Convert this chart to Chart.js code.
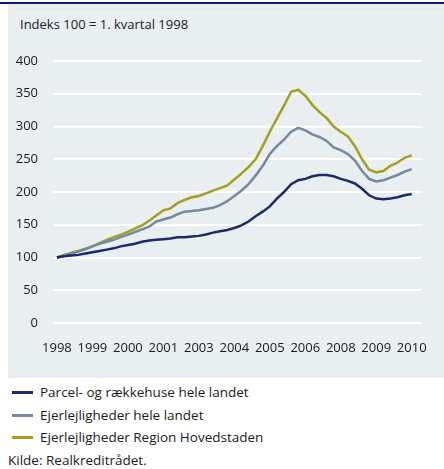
<!DOCTYPE html>
<html>
<head>
<meta charset="utf-8">
<script src="https://cdn.jsdelivr.net/npm/chart.js@4.4.1/dist/chart.umd.min.js"></script>
<style>
  body { margin: 0; background: #fff; font-family: "Open Sans", sans-serif; color: #1a1a1a; }
  #topline { position: absolute; left: 0; top: 2px; width: 444px; height: 2px; background: #101a6e; }
  #panel { position: absolute; left: 8px; top: 4px; width: 436px; height: 374px; background: #e9eef1; }
  #unit { position: absolute; left: 12px; top: 11px; font-size: 13px; }
  #chart_Index { position: absolute; left: 0; top: 0; }
  #legend { position: absolute; left: 0; top: 381px; font-size: 13.5px; }
  .item { height: 22.5px; line-height: 22px; position: relative; padding-left: 40px; }
  .item span.swatch { position: absolute; left: 12px; top: 10px; width: 21px; height: 3px; }
  #source { position: absolute; left: 8px; top: 451px; font-size: 13.5px; }
</style>
</head>
<body>
<div id="topline"></div>
<div id="panel">
  <div id="unit">Indeks 100 = 1. kvartal 1998</div>
  <canvas id="chart_Index" width="436" height="374"></canvas>
</div>
<div id="legend"></div>
<div id="source">Kilde: Realkreditrådet.</div>
<script>
// kvartaler 1998K1 - 2010K3
var quarters = [];
for (var yr = 1998; yr <= 2010; yr++) {
  for (var q = 1; q <= 4; q++) {
    if (yr == 2010 && q > 3) break;
    quarters.push(yr + "K" + q);
  }
}
var tickIndex = [0, 5, 10, 15, 20, 25, 30, 35, 40, 45, 50];

var seriesNames = ["Parcel- og rækkehuse hele landet", "Ejerlejligheder hele landet", "Ejerlejligheder Region Hovedstaden"];

var parcel = [100, 102, 103, 104, 106, 108, 110, 112, 114, 117,
  119, 121, 124, 126, 127, 128, 129, 131, 131, 132,
  133, 135, 138, 140, 142, 145, 149, 155, 163, 170,
  178, 190, 200, 212, 218, 220, 224, 226, 226, 224,
  220, 217, 213, 205, 195, 190, 189, 190, 192, 195, 197];

var ejerLand = [100, 103, 106, 109, 113, 117, 121, 124, 127, 131,
  135, 139, 143, 147, 155, 158, 161, 166, 170, 171,
  172, 174, 176, 180, 186, 194, 202, 212, 225, 240,
  258, 270, 280, 292, 298, 294, 288, 284, 278, 268,
  264, 258, 248, 232, 220, 216, 218, 222, 226, 231, 235];

var ejerHoved = [100, 104, 107, 110, 113, 117, 122, 127, 131, 135,
  139, 144, 149, 156, 164, 172, 175, 183, 188, 192,
  194, 198, 202, 206, 210, 219, 228, 238, 250, 270,
  292, 312, 332, 353, 356, 347, 333, 322, 313, 300,
  292, 285, 270, 250, 234, 230, 232, 240, 245, 252, 256];

var colors = ["#1b2a6b", "#7489a0", "#a99d1f"];

function toPoints(arr) {
  return arr.map(function (v, i) { return { x: i, y: v }; });
}

var chart = new Chart(document.getElementById("chart_Index"), {
  type: 'line',
  data: {
    datasets: [parcel, ejerLand, ejerHoved].map(function (arr, k) {
      return {
        label: seriesNames[k],
        data: toPoints(arr),
        borderColor: colors[k],
        backgroundColor: colors[k],
        borderWidth: 2.5,
        pointRadius: 0,
        tension: 0
      };
    })
  },
  options: {
    responsive: false,
    animation: false,
    layout: { padding: { left: 0, right: 15, top: 57, bottom: 0 } },
    plugins: { legend: { display: false }, tooltip: { enabled: false } },
    scales: {
      x: {
        type: 'linear',
        min: -0.553,
        max: 51.45,
        grid: { display: false, drawTicks: false },
        border: { display: false },
        afterBuildTicks: function (scale) {
          scale.ticks = tickIndex.map(function (i) { return { value: i }; });
        },
        afterFit: function (scale) { scale.height = 55; },
        ticks: {
          padding: 17,
          maxRotation: 0,
          autoSkip: false,
          color: '#1a1a1a',
          font: { family: 'Open Sans', size: 13 },
          callback: function (value) { return quarters[value].substring(0, 4); }
        }
      },
      y: {
        min: 0,
        max: 400,
        grid: { color: '#ffffff', lineWidth: 2, drawTicks: false },
        border: { display: false },
        afterFit: function (scale) { scale.width = 45; },
        ticks: {
          stepSize: 50,
          padding: 15,
          color: '#1a1a1a',
          font: { family: 'Open Sans', size: 13 }
        }
      }
    }
  }
});

// legend under the panel
var legendDiv = document.getElementById("legend");
chart.data.datasets.forEach(function (ds) {
  var item = document.createElement("div");
  item.className = "item";
  item.innerHTML = '<span class="swatch" style="background:' + ds.borderColor + '"></span>' + ds.label;
  legendDiv.appendChild(item);
});
</script>
</body>
</html>
